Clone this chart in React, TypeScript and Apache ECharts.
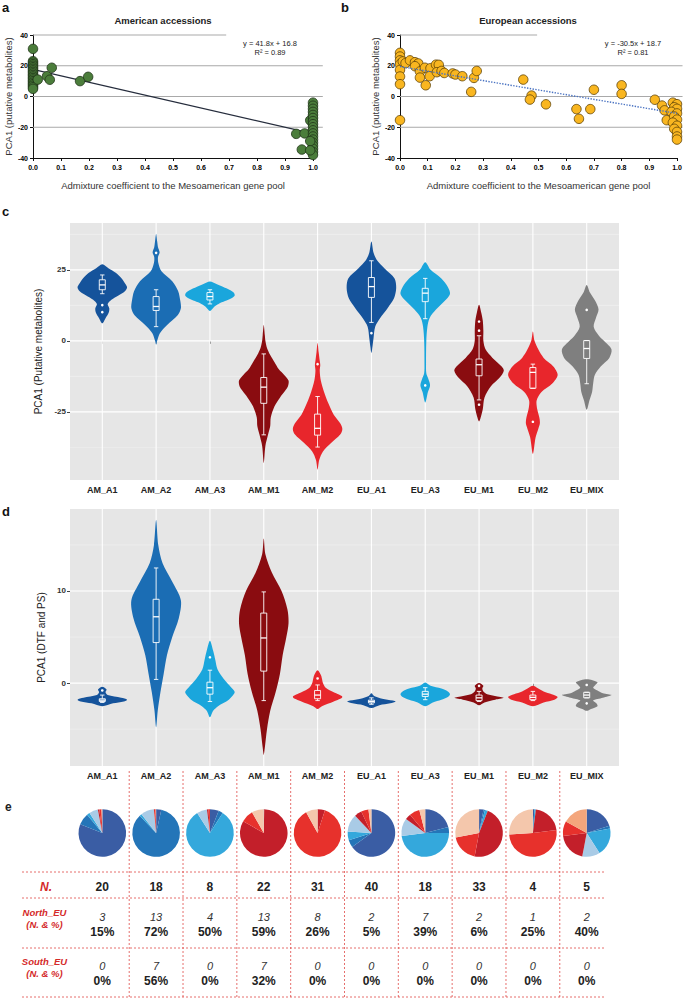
import React, { useEffect, useRef } from "react";
import * as echarts from "echarts";

const FONT = "'Liberation Sans', Arial, Helvetica, sans-serif";

// ---------------- panels a / b : scatter data ----------------
const americanPoints: number[][] = [
  [0, 31], [0, 23], [0, 22], [0, 21], [0, 20], [0, 19], [0, 18], [0, 17], [0, 16], [0, 15],
  [0, 14], [0, 13], [0, 12], [0, 11], [0, 10], [0, 9], [0, 8], [0, 7], [0, 6], [0, 5],
  [0.017, 11], [0.05, 13.2], [0.067, 18.7], [0.06, 10.9], [0.168, 10], [0.197, 12.8],
  [0.94, -24.3], [0.97, -24], [0.99, -15.5], [0.96, -34.5],
  [1, -4], [1, -6], [1, -8], [1, -10], [1, -12], [1, -14], [1, -16], [1, -18], [1, -20],
  [1, -22], [1, -24], [1, -26], [1, -28], [1, -30], [1, -32], [1, -34], [1, -36], [1, -38],
  [0.99, -29], [0.99, -35],
];
const americanFit: number[][] = [[0.015, 17.0], [1.0, -24.2]];
const americanEquation = ["y = 41.8x + 16.8", "R² = 0.89"];

const europeanPoints: number[][] = [
  [0, 28.4], [0, 26], [0, 23.5], [0, 21], [0, 17.3], [0, 13], [0, 8], [0, -15.4],
  [0.01, 22.8], [0.02, 21.7], [0.036, 23.5], [0.054, 22.3], [0.066, 21.5], [0.054, 19.7],
  [0.072, 16.3], [0.09, 18.7], [0.072, 12.3], [0.093, 7.3], [0.11, 18.4], [0.13, 20.7],
  [0.14, 20.6], [0.107, 13.2], [0.133, 15.8], [0.15, 16.6], [0.16, 15.3], [0.19, 15],
  [0.2, 14.3], [0.225, 13.2], [0.257, 3], [0.267, 12.1], [0.277, 16.6],
  [0.445, 11], [0.475, 0.6], [0.469, -2], [0.527, -5.1], [0.637, -8.2], [0.646, -14.5],
  [0.687, -8.2], [0.7, 4.4], [0.8, 7.3], [0.8, 1.7], [0.92, -2.1], [0.946, -5.9],
  [0.955, -9], [0.963, -15.4],
  [0.985, -4], [1, -5], [0.99, -7], [1, -8], [0.98, -10], [1, -11], [0.99, -13], [1, -15],
  [0.985, -17], [1, -19], [0.99, -21], [1, -23], [1, -26], [1, -28],
];
const europeanFit: number[][] = [[0, 19.5], [1, -11]];
const europeanEquation = ["y = -30.5x + 18.7", "R² = 0.81"];

const scatterGridValues = [40, 20, 0, -20];

// ---------------- panels c / d : violins ----------------
const groups = ["AM_A1", "AM_A2", "AM_A3", "AM_M1", "AM_M2", "EU_A1", "EU_A3", "EU_M1", "EU_M2", "EU_MIX"];
const groupColors = ["#15539b", "#1b6db4", "#1aa6dc", "#8a0c10", "#e8262c", "#15539b", "#1aa6dc", "#8a0c10", "#e8262c", "#7f7f7f"];

// [value, half-width in category units], top to bottom
const metaboliteViolins: number[][][] = [
  [[27, 0], [25.5, 0.12], [24, 0.25], [22, 0.36], [20, 0.43], [18.8, 0.46], [17.5, 0.42], [16, 0.3], [14.5, 0.17], [13, 0.1], [11.5, 0.13], [10, 0.12], [8, 0.06], [6.2, 0]],
  [[37.6, 0], [35, 0.02], [33, 0.035], [31.2, 0.065], [29.5, 0.035], [27.5, 0.04], [24.5, 0.1], [21, 0.3], [17.5, 0.41], [14, 0.45], [11.5, 0.46], [9, 0.4], [5.5, 0.2], [2.7, 0.07], [0, 0.02], [-1.4, 0]],
  [[20.9, 0], [20, 0.12], [19, 0.25], [18, 0.36], [17, 0.44], [16, 0.46], [15, 0.4], [14, 0.28], [13, 0.16], [12, 0.08], [10.5, 0]],
  [[5.6, 0], [2, 0.02], [0, 0.03], [-2.5, 0.06], [-5, 0.12], [-7.5, 0.2], [-10, 0.28], [-12, 0.38], [-14, 0.46], [-16, 0.45], [-17.5, 0.4], [-20, 0.3], [-23, 0.2], [-27, 0.13], [-30, 0.12], [-33, 0.08], [-37, 0.03], [-43, 0]],
  [[-0.8, 0], [-4, 0.02], [-7, 0.04], [-8.5, 0.05], [-10.5, 0.04], [-14, 0.06], [-18, 0.12], [-22, 0.2], [-26, 0.3], [-29, 0.42], [-31, 0.46], [-33, 0.42], [-36, 0.25], [-39, 0.1], [-42, 0.03], [-45.4, 0]],
  [[35, 0], [31, 0.04], [28.5, 0.1], [25.6, 0.24], [22, 0.43], [18.5, 0.46], [15, 0.42], [11.5, 0.3], [8, 0.16], [5, 0.07], [1, 0.04], [-2, 0.02], [-4.3, 0]],
  [[27.7, 0], [25, 0.1], [22, 0.3], [19, 0.42], [16.5, 0.46], [14, 0.36], [11, 0.2], [8, 0.08], [5, 0.04], [0, 0.02], [-8, 0.015], [-11.4, 0.02], [-13.5, 0.06], [-15.7, 0.09], [-18, 0.05], [-21.7, 0]],
  [[12.7, 0], [10, 0.04], [7, 0.07], [3.5, 0.08], [0, 0.08], [-3, 0.12], [-6, 0.25], [-9, 0.42], [-10.5, 0.46], [-13, 0.38], [-16, 0.22], [-20, 0.1], [-24, 0.07], [-27, 0.03], [-28.4, 0]],
  [[3.3, 0], [0, 0.03], [-3, 0.1], [-6, 0.2], [-9, 0.38], [-12, 0.46], [-15, 0.36], [-18, 0.16], [-21, 0.07], [-24, 0.08], [-27, 0.12], [-29, 0.13], [-31, 0.1], [-34, 0.05], [-39.8, 0]],
  [[19.7, 0], [17, 0.06], [14, 0.16], [11, 0.22], [8, 0.17], [5, 0.13], [2, 0.22], [0, 0.32], [-3, 0.46], [-6, 0.42], [-9, 0.26], [-12, 0.15], [-15, 0.12], [-18, 0.1], [-21, 0.05], [-24.3, 0]],
];
// [lower whisker, Q1, median, Q3, upper whisker]
const metaboliteBoxes: number[][] = [
  [16.6, 18, 19.7, 21.5, 23.2],
  [5.0, 10.7, 12.1, 15.6, 18],
  [13, 14.4, 15.6, 17, 18],
  [-33.1, -22, -16.3, -12.9, -4.6],
  [-37.4, -33.2, -30.8, -25.8, -19.6],
  [6.5, 15.3, 19.1, 22.3, 28.2],
  [7.8, 13.8, 16.8, 18.5, 22],
  [-20.8, -12.3, -8.4, -6.4, 1.8],
  [-16.7, -16.7, -11.1, -9.4, -8.2],
  [-15.1, -6.2, -2.7, 0.1, 0.1],
];
const metaboliteOutliers: number[][] = [[12.6, 10.1], [31], [], [], [-8.2], [2.7], [-15.7], [6.8, 3.6, -22.5], [-28.5], [10.9]];
const metaboliteMajor = [-25, 0, 25];
const metaboliteMinor = [-37.5, -12.5, 12.5, 37.5];

const floweringViolins: number[][][] = [
  [[-0.4, 0], [-0.7, 0.08], [-1.0, 0.06], [-1.3, 0.1], [-1.6, 0.35], [-1.8, 0.46], [-2.0, 0.4], [-2.2, 0.2], [-2.5, 0]],
  [[17.7, 0], [15, 0.04], [13, 0.12], [11, 0.3], [9, 0.46], [7, 0.42], [5, 0.3], [3, 0.2], [1, 0.14], [-1, 0.08], [-3, 0.03], [-4.8, 0]],
  [[4.6, 0], [3.5, 0.06], [2.5, 0.1], [1.5, 0.14], [0.5, 0.25], [-0.5, 0.4], [-1, 0.46], [-1.8, 0.35], [-2.5, 0.15], [-3, 0.06], [-3.7, 0]],
  [[15.7, 0], [14, 0.03], [12, 0.15], [10, 0.33], [8, 0.44], [6.5, 0.46], [5, 0.42], [3, 0.35], [1, 0.3], [-1, 0.22], [-3, 0.12], [-5, 0.06], [-7, 0.02], [-7.8, 0]],
  [[1.4, 0], [0.9, 0.06], [0.5, 0.08], [0, 0.1], [-0.5, 0.15], [-1, 0.3], [-1.5, 0.46], [-2, 0.3], [-2.5, 0.08], [-2.8, 0]],
  [[-1.1, 0], [-1.4, 0.05], [-1.7, 0.2], [-1.9, 0.4], [-2.0, 0.45], [-2.2, 0.35], [-2.4, 0.15], [-2.7, 0]],
  [[0.07, 0], [-0.3, 0.1], [-0.6, 0.3], [-0.9, 0.42], [-1.2, 0.46], [-1.5, 0.42], [-1.8, 0.3], [-2.1, 0.14], [-2.5, 0]],
  [[0, 0], [-0.3, 0.08], [-0.6, 0.06], [-0.9, 0.08], [-1.2, 0.15], [-1.5, 0.4], [-1.6, 0.46], [-1.8, 0.3], [-2.1, 0.1], [-2.4, 0]],
  [[-0.3, 0], [-0.6, 0.1], [-0.9, 0.2], [-1.2, 0.35], [-1.5, 0.46], [-1.8, 0.4], [-2.1, 0.2], [-2.5, 0]],
  [[0.43, 0], [0.1, 0.2], [-0.2, 0.16], [-0.5, 0.12], [-0.8, 0.2], [-1.1, 0.3], [-1.3, 0.46], [-1.6, 0.3], [-1.9, 0.12], [-2.2, 0.18], [-2.5, 0.2], [-2.8, 0.08], [-3.0, 0]],
];
const floweringBoxes: number[][] = [
  [-2.1, -2.0, -1.85, -1.7, -1.3],
  [0.4, 4.4, 7.2, 9.1, 12.5],
  [-2.0, -1.2, -0.5, 0.1, 1.4],
  [-1.9, 1.3, 4.9, 7.6, 9.9],
  [-1.9, -1.7, -1.3, -0.8, -0.2],
  [-2.3, -2.15, -2.0, -1.85, -1.6],
  [-1.8, -1.45, -1.2, -0.9, -0.5],
  [-2.0, -1.9, -1.6, -1.3, -0.9],
  [-1.9, -1.8, -1.55, -1.3, -0.9],
  [-1.6, -1.6, -1.3, -1.0, -1.0],
];
const floweringOutliers: number[][] = [[-0.8], [], [2.8], [], [0.5], [], [], [-0.3], [], [-0.2, -2.2]];
const floweringMajor = [0, 10];
const floweringMinor = [-5, 5, 15];

// ---------------- panel e : pies and table ----------------
const ancestryNames = ["A1", "A2", "A3", "A4", "M1", "M2", "M3", "M4"];
const ancestryColors = ["#3a5da4", "#2475b8", "#34a8dc", "#a9cbe6", "#c31f2a", "#e7312c", "#f4c7ac", "#f4a67c"];
const pieShares: number[][] = [
  [81, 8, 2, 6, 1, 1.5, 0.5, 0],
  [3.5, 84, 1.5, 9, 0, 1.2, 0.3, 0],
  [6, 3, 82, 7, 1, 1, 0, 0],
  [0.3, 0, 0, 0, 83, 8.5, 8.2, 0],
  [0, 0, 0, 0, 5, 87, 8, 0],
  [65, 5, 6, 12, 5, 5, 2, 0],
  [21, 4, 48, 12, 4, 7, 4, 0],
  [3, 1, 2, 0, 47, 19, 28, 0],
  [1, 0, 1, 0, 21, 51, 26, 0],
  [20, 2, 19, 12, 20, 10, 0, 17],
];
const totalN = [20, 18, 8, 22, 31, 40, 18, 33, 4, 5];
const northN = [3, 13, 4, 13, 8, 2, 7, 2, 1, 2];
const northPct = ["15%", "72%", "50%", "59%", "26%", "5%", "39%", "6%", "25%", "40%"];
const southN = [0, 7, 0, 7, 0, 0, 0, 0, 0, 0];
const southPct = ["0%", "56%", "0%", "32%", "0%", "0%", "0%", "0%", "0%", "0%"];

// ---------------- helpers ----------------
const catIdx = groups.map((_, i) => i + 1);
const CAT_MIN = 0.4;
const CAT_MAX = 10.6;
const RED = "#d42a2a";

function txt(text: string, x: number, y: number, o: any = {}) {
  const align = o.align || "center";
  return {
    type: "text",
    x,
    y,
    silent: true,
    style: {
      text,
      fontFamily: FONT,
      fontSize: o.size || 9,
      fontWeight: o.weight || "normal",
      fontStyle: o.style || "normal",
      fill: o.color || "#222",
      align,
      textAlign: align,
      verticalAlign: "middle",
      textVerticalAlign: "middle",
    },
  };
}

function scatterGridRenderer(topEnd: number, otherEnd: number) {
  return (_p: any, api: any) => {
    const children = scatterGridValues.map((v) => {
      const a = api.coord([0, v]);
      const b = api.coord([v === 40 ? topEnd : otherEnd, v]);
      return { type: "line", shape: { x1: a[0], y1: a[1], x2: b[0], y2: b[1] }, style: { stroke: "#a9a9a9", lineWidth: 1 } };
    });
    return { type: "group", children };
  };
}

function panelGridRenderer(yMin: number, yMax: number, majors: number[], minors: number[]) {
  return (_p: any, api: any) => {
    const children: any[] = [];
    const hline = (v: number, stroke: string, w: number) => {
      const a = api.coord([CAT_MIN, v]);
      const b = api.coord([CAT_MAX, v]);
      children.push({ type: "line", shape: { x1: a[0], y1: a[1], x2: b[0], y2: b[1] }, style: { stroke, lineWidth: w } });
    };
    minors.forEach((v) => hline(v, "#f2f2f2", 0.6));
    majors.forEach((v) => hline(v, "#ffffff", 1.1));
    catIdx.forEach((c) => {
      const a = api.coord([c, yMin]);
      const b = api.coord([c, yMax]);
      children.push({ type: "line", shape: { x1: a[0], y1: a[1], x2: b[0], y2: b[1] }, style: { stroke: "#ffffff", lineWidth: 1.1 } });
    });
    return { type: "group", children };
  };
}

function violinRenderer(profiles: number[][][], boxes: number[][], outliers: number[][]) {
  return (_p: any, api: any) => {
    const cat = api.value(0);
    const k = cat - 1;
    const prof = profiles[k];
    const right = prof.map(([v, w]) => api.coord([cat + w, v]));
    const left = prof.slice(1, -1).reverse().map(([v, w]) => api.coord([cat - w, v]));
    const children: any[] = [
      { type: "polygon", shape: { points: right.concat(left), smooth: 0.3 }, style: { fill: groupColors[k] } },
    ];
    const [wl, q1, med, q3, wh] = boxes[k];
    const cx = api.coord([cat, med])[0];
    const py = (v: number) => api.coord([cat, v])[1];
    const bw = 3;
    const cw = 2.2;
    const ls = { stroke: "#ffffff", lineWidth: 0.9 };
    children.push(
      { type: "line", shape: { x1: cx, y1: py(wh), x2: cx, y2: py(q3) }, style: ls },
      { type: "line", shape: { x1: cx, y1: py(q1), x2: cx, y2: py(wl) }, style: ls },
      { type: "line", shape: { x1: cx - cw, y1: py(wh), x2: cx + cw, y2: py(wh) }, style: ls },
      { type: "line", shape: { x1: cx - cw, y1: py(wl), x2: cx + cw, y2: py(wl) }, style: ls },
      { type: "rect", shape: { x: cx - bw, y: py(q3), width: 2 * bw, height: Math.max(py(q1) - py(q3), 0.8) }, style: { stroke: "#ffffff", lineWidth: 0.9, fill: "none" } },
      { type: "line", shape: { x1: cx - bw, y1: py(med), x2: cx + bw, y2: py(med) }, style: { stroke: "#ffffff", lineWidth: 1.3 } }
    );
    outliers[k].forEach((v) => children.push({ type: "circle", shape: { cx, cy: py(v), r: 1.3 }, style: { fill: "#ffffff" } }));
    return { type: "group", children };
  };
}

function scatterXAxis(gridIndex: number) {
  return {
    type: "value",
    gridIndex,
    min: 0,
    max: 1,
    interval: 0.1,
    name: "Admixture coefficient to the Mesoamerican gene pool",
    nameLocation: "middle",
    nameGap: 22,
    nameTextStyle: { fontFamily: FONT, fontSize: 9.5, color: "#333" },
    axisLine: { show: true, onZero: false, lineStyle: { color: "#111", width: 1 } },
    axisTick: { show: true, length: 3, lineStyle: { color: "#111" } },
    axisLabel: { fontFamily: FONT, fontSize: 7, fontWeight: "bold", color: "#000000", margin: 6, formatter: (v: number) => v.toFixed(1) },
    splitLine: { show: false },
  };
}
function scatterYAxis(gridIndex: number, gap: number) {
  return {
    type: "value",
    gridIndex,
    min: -40,
    max: 40,
    interval: 20,
    name: "PCA1 (putative metabolites)",
    nameLocation: "middle",
    nameGap: gap,
    nameTextStyle: { fontFamily: FONT, fontSize: 9.5, color: "#333" },
    axisLine: { show: true, onZero: false, lineStyle: { color: "#111", width: 1 } },
    axisTick: { show: true, length: 3, lineStyle: { color: "#111" } },
    axisLabel: { fontFamily: FONT, fontSize: 7, fontWeight: "bold", color: "#000000", margin: 5 },
    splitLine: { show: false },
  };
}
function catXAxis(gridIndex: number) {
  return {
    type: "value",
    gridIndex,
    min: CAT_MIN,
    max: CAT_MAX,
    axisLine: { show: false },
    splitLine: { show: false },
    axisTick: { show: true, customValues: catIdx, length: 3, lineStyle: { color: "#444" } },
    axisLabel: {
      customValues: catIdx,
      formatter: (v: number) => groups[Math.round(v) - 1],
      fontFamily: FONT,
      fontSize: 9,
      fontWeight: "bold",
      color: "#222",
      margin: 5,
    },
  };
}
function panelYAxis(gridIndex: number, min: number, max: number, labels: number[], name: string) {
  return {
    type: "value",
    gridIndex,
    min,
    max,
    name,
    nameLocation: "middle",
    nameGap: 16,
    nameTextStyle: { fontFamily: FONT, fontSize: 10, color: "#222" },
    axisLine: { show: false },
    splitLine: { show: false },
    axisTick: { show: true, customValues: labels, length: 3, lineStyle: { color: "#444" } },
    axisLabel: { customValues: labels, fontFamily: FONT, fontSize: 8, fontWeight: "bold", color: "#333", margin: 4 },
  };
}

function buildBase() {
  const series: any[] = [
    { type: "custom", xAxisIndex: 0, yAxisIndex: 0, data: [[0.5, 0]], silent: true, z: 1, renderItem: scatterGridRenderer(0.69, 1.035) },
    { type: "line", xAxisIndex: 0, yAxisIndex: 0, data: americanFit, symbol: "none", silent: true, z: 2, lineStyle: { color: "#262d3d", width: 1.2 } },
    {
      type: "scatter", xAxisIndex: 0, yAxisIndex: 0, data: americanPoints, symbolSize: 9.5, z: 3, silent: true,
      itemStyle: { color: "#4b7d3b", borderColor: "#1f3318", borderWidth: 0.8, opacity: 1 },
    },
    { type: "custom", xAxisIndex: 1, yAxisIndex: 1, data: [[0.5, 0]], silent: true, z: 1, renderItem: scatterGridRenderer(0.495, 1.02) },
    {
      type: "scatter", xAxisIndex: 1, yAxisIndex: 1, data: europeanPoints, symbolSize: 9.5, z: 3, silent: true,
      itemStyle: { color: "#f9b620", borderColor: "#5e4208", borderWidth: 0.8, opacity: 1 },
    },
    { type: "line", xAxisIndex: 1, yAxisIndex: 1, data: europeanFit, symbol: "none", silent: true, z: 4, lineStyle: { color: "#4a73c2", width: 1.4, type: "dotted" } },
    { type: "custom", xAxisIndex: 2, yAxisIndex: 2, data: [[1, 0]], silent: true, z: 1, renderItem: panelGridRenderer(-49, 41.5, metaboliteMajor, metaboliteMinor) },
    {
      type: "custom", xAxisIndex: 2, yAxisIndex: 2, silent: true, z: 2,
      data: catIdx.map((c, k) => [c, metaboliteBoxes[k][2]]),
      encode: { x: 0, y: 1 },
      renderItem: violinRenderer(metaboliteViolins, metaboliteBoxes, metaboliteOutliers),
    },
    { type: "custom", xAxisIndex: 3, yAxisIndex: 3, data: [[1, 0]], silent: true, z: 1, renderItem: panelGridRenderer(-9, 18.9, floweringMajor, floweringMinor) },
    {
      type: "custom", xAxisIndex: 3, yAxisIndex: 3, silent: true, z: 2,
      data: catIdx.map((c, k) => [c, floweringBoxes[k][2]]),
      encode: { x: 0, y: 1 },
      renderItem: violinRenderer(floweringViolins, floweringBoxes, floweringOutliers),
    },
  ];
  return {
    animation: false,
    backgroundColor: "#ffffff",
    textStyle: { fontFamily: FONT },
    grid: [
      { left: 33, top: 35, width: 280, height: 123 },
      { left: 400, top: 35, width: 277, height: 123 },
      { left: 70, top: 223, width: 549, height: 257, show: true, backgroundColor: "#e6e6e6", borderWidth: 0 },
      { left: 70, top: 509, width: 549, height: 257, show: true, backgroundColor: "#e6e6e6", borderWidth: 0 },
    ],
    xAxis: [scatterXAxis(0), scatterXAxis(1), catXAxis(2), catXAxis(3)],
    yAxis: [
      scatterYAxis(0, 13),
      scatterYAxis(1, 19),
      panelYAxis(2, -49, 41.5, metaboliteMajor, "PCA1 (Putative metabolites)"),
      panelYAxis(3, -9, 18.9, floweringMajor, "PCA1 (DTF and PS)"),
    ],
    series,
  };
}

const staticGraphics: any[] = [
  txt("a", 2, 7, { size: 13, weight: "bold", align: "left", color: "#111" }),
  txt("b", 341, 7, { size: 13, weight: "bold", align: "left", color: "#111" }),
  txt("c", 2, 211, { size: 13, weight: "bold", align: "left", color: "#111" }),
  txt("d", 2, 511, { size: 13, weight: "bold", align: "left", color: "#111" }),
  txt("e", 5, 807, { size: 12, weight: "bold", align: "left", color: "#222" }),
  txt("American accessions", 163, 20, { size: 9.5, weight: "bold", color: "#222" }),
  txt("European accessions", 528, 20, { size: 9.5, weight: "bold", color: "#222" }),
  txt(americanEquation[0], 270, 43, { size: 7.5, color: "#222" }),
  txt(americanEquation[1], 270, 52.5, { size: 7.5, color: "#222" }),
  txt(europeanEquation[0], 633, 43, { size: 7.5, color: "#222" }),
  txt(europeanEquation[1], 633, 52.5, { size: 7.5, color: "#222" }),
];

function tableGraphics(xs: number[], mids: number[]) {
  const g: any[] = [];
  const dash = { stroke: "#e04a48", lineWidth: 0.8, lineDash: [2, 2] };
  [872, 898, 948, 997].forEach((y) => g.push({ type: "line", silent: true, shape: { x1: 22, y1: y, x2: 605, y2: y }, style: dash }));
  mids.forEach((x) => g.push({ type: "line", silent: true, shape: { x1: x, y1: 771, x2: x, y2: 997 }, style: dash }));
  g.push(txt("N.", 46, 886.5, { size: 12, weight: "bold", style: "italic", color: RED }));
  g.push(txt("North_EU", 44.5, 912.5, { size: 9.5, weight: "bold", style: "italic", color: RED }));
  g.push(txt("(N. & %)", 44.5, 924, { size: 9.5, weight: "bold", style: "italic", color: RED }));
  g.push(txt("South_EU", 44.5, 961.5, { size: 9.5, weight: "bold", style: "italic", color: RED }));
  g.push(txt("(N. & %)", 44.5, 973.5, { size: 9.5, weight: "bold", style: "italic", color: RED }));
  xs.forEach((x, k) => {
    g.push(txt(String(totalN[k]), x, 886.5, { size: 12, weight: "bold", color: "#222" }));
    g.push(txt(String(northN[k]), x, 917, { size: 11, style: "italic", color: "#333" }));
    g.push(txt(northPct[k], x, 932, { size: 12, weight: "bold", color: "#222" }));
    g.push(txt(String(southN[k]), x, 966, { size: 11, style: "italic", color: "#333" }));
    g.push(txt(southPct[k], x, 980.5, { size: 12, weight: "bold", color: "#222" }));
  });
  return g;
}

function pieSeries(xs: number[]) {
  return xs.map((x, k) => ({
    type: "pie",
    name: groups[k],
    center: [x, 833],
    radius: 23.8,
    startAngle: 90,
    clockwise: true,
    silent: true,
    label: { show: false },
    labelLine: { show: false },
    itemStyle: { borderWidth: 0 },
    data: pieShares[k].map((v, j) => ({ name: ancestryNames[j], value: v, itemStyle: { color: ancestryColors[j] } })),
  }));
}

export default function App() {
  const ref = useRef<HTMLDivElement>(null);
  useEffect(() => {
    if (!ref.current) return;
    const chart = echarts.init(ref.current, null, { renderer: "svg" });
    const base: any = buildBase();
    chart.setOption(base);
    const xs = catIdx.map((c) => chart.convertToPixel({ xAxisIndex: 3 } as any, c) as unknown as number);
    const mids = catIdx.slice(0, -1).map((c) => chart.convertToPixel({ xAxisIndex: 3 } as any, c + 0.5) as unknown as number);
    chart.setOption({
      series: [...base.series, ...pieSeries(xs)],
      graphic: [...staticGraphics, ...tableGraphics(xs, mids)],
    });
    return () => chart.dispose();
  }, []);
  return <div ref={ref} style={{ position: "absolute", left: 0, top: 0, width: 685, height: 999, background: "#fff" }} />;
}
